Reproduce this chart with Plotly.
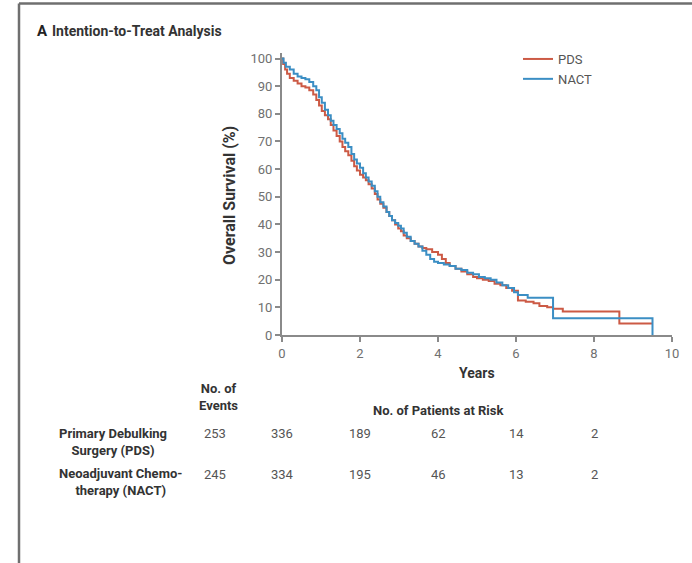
import plotly.graph_objects as go

# Kaplan-Meier step points (years, overall survival %)
pds_years = [0, 0.03, 0.08, 0.13, 0.2, 0.3, 0.4, 0.5, 0.6, 0.7, 0.8, 0.88, 0.95, 1.02,
             1.1, 1.18, 1.25, 1.32, 1.4, 1.48, 1.55, 1.62, 1.7, 1.78, 1.85, 1.92, 2.0,
             2.08, 2.15, 2.22, 2.3, 2.38, 2.45, 2.52, 2.6, 2.68, 2.75, 2.82, 2.9, 2.98,
             3.05, 3.12, 3.2, 3.3, 3.4, 3.5, 3.6, 3.7, 3.85, 4.0, 4.1, 4.2, 4.3, 4.45,
             4.6, 4.75, 4.9, 5.0, 5.15, 5.3, 5.45, 5.6, 5.75, 5.9, 6.05, 6.25, 6.45,
             6.6, 6.8, 6.95, 7.2, 8.65, 9.5]
pds_surv = [100, 98, 96, 94.5, 93, 92, 91, 90, 89.5, 88.5, 87, 85, 83, 81,
            79.5, 78, 76, 74, 72, 70, 68, 66.5, 65, 63, 61, 59.5, 58,
            57, 56, 54.5, 53, 51, 49, 47.5, 46, 44.5, 43, 41.5, 40, 38.5,
            37.5, 36, 35, 34, 33, 32, 31.5, 31, 30, 29, 27.5, 26, 25, 24,
            23, 22, 21, 20.5, 20, 19.5, 18.5, 18, 17, 16, 12.5, 12, 11.5,
            10.5, 10, 9.5, 8.5, 4.2, 4.2]

nact_years = [0, 0.04, 0.1, 0.2, 0.3, 0.4, 0.5, 0.6, 0.7, 0.8, 0.88, 0.95, 1.02, 1.1,
              1.18, 1.25, 1.32, 1.4, 1.48, 1.55, 1.62, 1.7, 1.78, 1.85, 1.92, 2.0, 2.08,
              2.15, 2.22, 2.3, 2.38, 2.45, 2.52, 2.6, 2.68, 2.75, 2.82, 2.9, 2.98, 3.05,
              3.12, 3.2, 3.3, 3.4, 3.5, 3.6, 3.7, 3.8, 3.9, 4.0, 4.15, 4.3, 4.45, 4.6,
              4.75, 4.9, 5.05, 5.2, 5.35, 5.5, 5.65, 5.8, 5.95, 6.05, 6.3, 6.95, 9.5]
nact_surv = [100, 98.5, 97, 96, 94.5, 93.5, 93, 92.5, 91.5, 90, 88.5, 86, 84, 81.5,
             79.5, 77.5, 76, 74.5, 73, 71, 69.5, 68, 65.5, 63.5, 62, 60.5, 58.5,
             57, 55.5, 54, 52, 50, 48, 46.5, 44.5, 43, 41.5, 40.5, 39.5, 38.5,
             37, 35.5, 34, 33, 32, 30.5, 29, 27.5, 26.5, 26, 25.5, 25, 24, 23.5,
             22.5, 22, 21, 20.5, 20, 19, 18, 17, 15.5, 14.5, 13.5, 6.1, 0]

# Risk table
risk_years = [0, 2, 4, 6, 8]
pds_at_risk = [336, 189, 62, 14, 2]
nact_at_risk = [334, 195, 46, 13, 2]
pds_events = 253
nact_events = 245

x_ticks = [0, 2, 4, 6, 8, 10]
y_ticks = [0, 10, 20, 30, 40, 50, 60, 70, 80, 90, 100]

PDS_COLOR = "#cc5a45"
NACT_COLOR = "#3b8ec4"
AXIS_COLOR = "#8a8a8a"
FONT = "Roboto, sans-serif"
LABEL = "#333333"
NUM = "#555555"

W, H = 692, 563
ML, MR, MT, MB = 282, 20, 53, 228
PW, PH = W - ML - MR, H - MT - MB


def paper_x(px):
    return (px - ML) / PW


def paper_y(py):
    return (H - MB - py) / PH


fig = go.Figure()
fig.add_trace(go.Scatter(x=pds_years, y=pds_surv, mode="lines", name="PDS",
                         line=dict(color=PDS_COLOR, width=2, shape="hv")))
fig.add_trace(go.Scatter(x=nact_years, y=nact_surv, mode="lines", name="NACT",
                         line=dict(color=NACT_COLOR, width=2, shape="hv")))

axis_style = dict(showgrid=False, zeroline=False, showline=True, linecolor=AXIS_COLOR,
                  linewidth=2, ticks="outside", ticklen=5, tickwidth=1.5,
                  tickcolor=AXIS_COLOR,
                  tickfont=dict(family=FONT, size=13, color="#707070"))
fig.update_xaxes(range=[0, 10], tickvals=x_ticks, **axis_style)
fig.update_yaxes(range=[0, 102], tickvals=y_ticks, **axis_style)

ann = []
# panel title
ann.append(dict(text="<b>A</b>", x=paper_x(35), y=paper_y(31), xanchor="left", yanchor="middle",
                font=dict(family=FONT, size=15, color="#222222")))
ann.append(dict(text="<b>Intention-to-Treat Analysis</b>", x=paper_x(50), y=paper_y(31),
                xanchor="left", yanchor="middle",
                font=dict(family=FONT, size=14, color=LABEL)))
# axis titles
ann.append(dict(text="<b>Overall Survival (%)</b>", x=paper_x(229), y=paper_y(196),
                textangle=-90, xanchor="center", yanchor="middle",
                font=dict(family=FONT, size=16, color=LABEL)))
ann.append(dict(text="<b>Years</b>", x=paper_x(477), y=paper_y(373),
                xanchor="center", yanchor="middle",
                font=dict(family=FONT, size=14, color=LABEL)))
# risk table headers
ann.append(dict(text="<b>No. of<br>Events</b>", x=paper_x(218), y=paper_y(397),
                xanchor="center", yanchor="middle", align="center",
                font=dict(family=FONT, size=13, color=LABEL)))
ann.append(dict(text="<b>No. of Patients at Risk</b>", x=4, xref="x", y=paper_y(410),
                xanchor="center", yanchor="middle",
                font=dict(family=FONT, size=13, color=LABEL)))
# row labels
ann.append(dict(text="<b>Primary Debulking<br>Surgery (PDS)</b>", x=paper_x(113), y=paper_y(442),
                xanchor="center", yanchor="middle", align="center",
                font=dict(family=FONT, size=13, color=LABEL)))
ann.append(dict(text="<b>Neoadjuvant Chemo-<br>therapy (NACT)</b>", x=paper_x(120), y=paper_y(482),
                xanchor="center", yanchor="middle", align="center",
                font=dict(family=FONT, size=13, color=LABEL)))
# events
for val, yy in [(pds_events, 434), (nact_events, 474)]:
    ann.append(dict(text=str(val), x=paper_x(215), y=paper_y(yy), xanchor="center",
                    yanchor="middle", font=dict(family=FONT, size=13, color=NUM)))
# numbers at risk
for row, yy in [(pds_at_risk, 434), (nact_at_risk, 474)]:
    for yr, val in zip(risk_years, row):
        ann.append(dict(text=str(val), x=yr, xref="x", y=paper_y(yy), xanchor="center",
                        yanchor="middle", font=dict(family=FONT, size=13, color=NUM)))

for a in ann:
    a.setdefault("xref", "paper")
    a["yref"] = "paper"
    a["showarrow"] = False

# outer frame (top and left edges)
shapes = [
    dict(type="line", xref="paper", yref="paper", x0=paper_x(19), x1=paper_x(692),
         y0=paper_y(3.5), y1=paper_y(3.5), line=dict(color="#6f6f6f", width=2.5)),
    dict(type="line", xref="paper", yref="paper", x0=paper_x(19), x1=paper_x(19),
         y0=paper_y(3.5), y1=paper_y(563), line=dict(color="#6f6f6f", width=2.5)),
]

fig.update_layout(
    width=W, height=H,
    margin=dict(l=ML, r=MR, t=MT, b=MB),
    paper_bgcolor="white", plot_bgcolor="white",
    annotations=ann, shapes=shapes,
    showlegend=True,
    legend=dict(x=paper_x(518), y=paper_y(44), xanchor="left", yanchor="top",
                bgcolor="rgba(0,0,0,0)", itemwidth=30, tracegroupgap=0,
                font=dict(family=FONT, size=13, color="#555555")),
)

fig.write_html("out.html")
